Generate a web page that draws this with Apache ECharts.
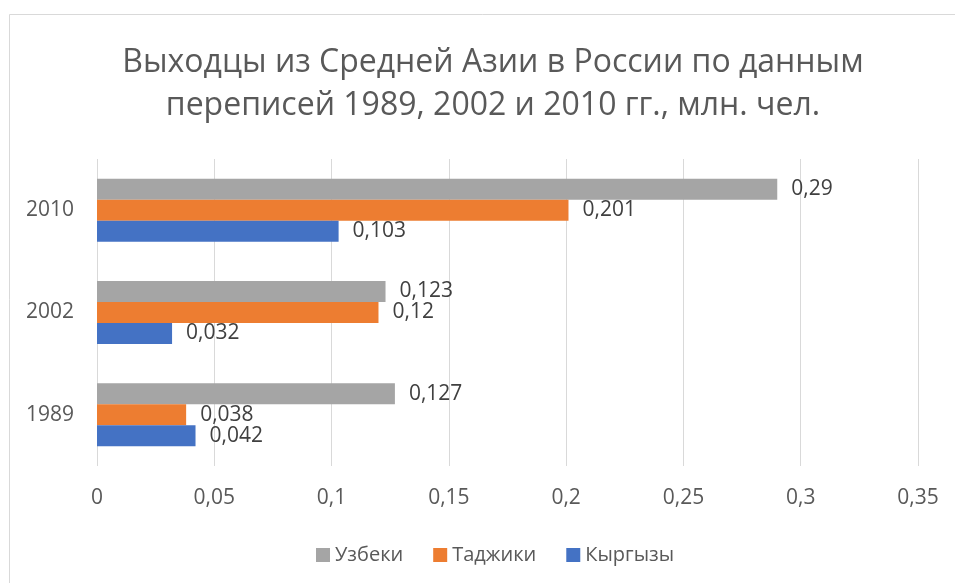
<!DOCTYPE html>
<html><head><meta charset="utf-8">
<script src="https://cdn.jsdelivr.net/npm/echarts@6/dist/echarts.min.js"></script>
<style>html,body{margin:0;padding:0;background:#fff}#c{width:955px;height:583px}</style>
</head><body><div id="c"></div>
<script>
const titleText = 'Выходцы из Средней Азии в России по данным\nпереписей 1989, 2002 и 2010 гг., млн. чел.';
const categories = ['1989', '2002', '2010'];
const uzbek = [0.127, 0.123, 0.29];
const tajik = [0.038, 0.12, 0.201];
const kyrgyz = [0.042, 0.032, 0.103];
const seriesNames = ['Узбеки', 'Таджики', 'Кыргызы'];
const colors = ['#A5A5A5', '#ED7D31', '#4472C4'];
const fmt = v => String(parseFloat(Number(v).toFixed(3))).replace('.', ',');
const font = 'Open Sans';
const chart = echarts.init(document.getElementById('c'), null, {renderer: 'canvas'});
const mk = (name, data, color) => ({
  name, type: 'bar', data, barWidth: 21, barGap: '0%',
  itemStyle: {color},
  label: {show: true, position: 'right', distance: 14, color: '#404040', fontSize: 21, fontFamily: font,
    formatter: p => fmt(p.value)}
});
chart.setOption({
  animation: false,
  backgroundColor: '#fff',
  graphic: [{type: 'rect', shape: {x: 9.5, y: 14.5, width: 980, height: 600}, style: {fill: null, stroke: '#d9d9d9', lineWidth: 1}}],
  title: {text: titleText, left: 488, textAlign: 'center', top: 36,
    textStyle: {fontSize: 32, fontWeight: 'normal', color: '#595959', fontFamily: font, lineHeight: 43}},
  legend: {data: seriesNames, left: 311, top: 540, itemWidth: 14, itemHeight: 14, itemGap: 30, icon: 'rect',
    textStyle: {fontSize: 20, color: '#595959', fontFamily: font}},
  grid: {left: 97, right: 37, top: 159, bottom: 117},
  xAxis: {type: 'value', min: 0, max: 0.35, interval: 0.05,
    axisLine: {show: false}, axisTick: {show: false},
    splitLine: {show: true, lineStyle: {color: '#d9d9d9', width: 1}},
    axisLabel: {formatter: v => fmt(v), fontSize: 21, color: '#595959', fontFamily: font, margin: 22}},
  yAxis: {type: 'category', data: categories,
    axisLine: {show: false}, axisTick: {show: false},
    axisLabel: {fontSize: 21, color: '#595959', fontFamily: font, margin: 23}},
  series: [mk(seriesNames[0], uzbek, colors[0]), mk(seriesNames[1], tajik, colors[1]), mk(seriesNames[2], kyrgyz, colors[2])]
});
</script></body></html>
